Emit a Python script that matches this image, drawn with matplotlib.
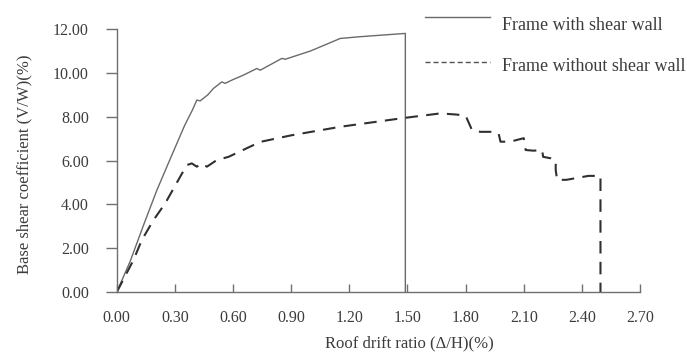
import numpy as np
import matplotlib.pyplot as plt
from matplotlib.lines import Line2D

plt.rcParams['font.family'] = ['Liberation Serif', 'DejaVu Serif']

# Кривая "Frame with shear wall"
drift_wall = [0.0, 0.069, 0.14, 0.207, 0.26, 0.31, 0.35, 0.39, 0.413, 0.43, 0.47,
              0.499, 0.542, 0.559, 0.594, 0.654, 0.723, 0.74, 0.852, 0.869, 1.0,
              1.153, 1.256, 1.489, 1.489]
shear_wall = [0.0, 1.4, 3.1, 4.65, 5.75, 6.78, 7.6, 8.3, 8.76, 8.72, 9.0,
              9.29, 9.59, 9.52, 9.67, 9.9, 10.2, 10.12, 10.66, 10.62, 11.0,
              11.57, 11.65, 11.8, 0.0]

# Кривая "Frame without shear wall"
drift_frame = [0.0, 0.086, 0.129, 0.189, 0.25, 0.327, 0.361, 0.387, 0.413, 0.439,
               0.465, 0.516, 0.577, 0.74, 0.9, 1.153, 1.48, 1.669, 1.75, 1.80,
               1.833, 1.876, 1.944, 1.97, 1.98, 2.03, 2.10, 2.11, 2.15, 2.195,
               2.2, 2.24, 2.265, 2.265, 2.272, 2.32, 2.434, 2.496, 2.496]
shear_frame = [0.0, 1.46, 2.37, 3.28, 4.05, 5.26, 5.79, 5.87, 5.72, 5.87,
               5.72, 6.02, 6.17, 6.85, 7.15, 7.54, 7.94, 8.15, 8.1, 8.05,
               7.39, 7.31, 7.31, 7.25, 6.86, 6.86, 7.02, 6.48, 6.45, 6.48,
               6.17, 6.1, 6.0, 5.57, 5.12, 5.12, 5.3, 5.3, 0.0]

xticks = [0.0, 0.3, 0.6, 0.9, 1.2, 1.5, 1.8, 2.1, 2.4, 2.7]
yticks = [0.0, 2.0, 4.0, 6.0, 8.0, 10.0, 12.0]

txt = '#3c3c3c'
W, H = 687, 354

fig = plt.figure(figsize=(6.87, 3.54), dpi=100)
ax = fig.add_axes([0.170, 0.175, 0.7616, 0.743])

ax.plot(drift_wall, shear_wall, color='#6a6a6a', lw=1.0)
ax.plot(drift_frame, shear_frame, color='#303030', lw=1.5, dashes=(6, 4))

ax.set_xlim(0, 2.7)
ax.set_ylim(0, 12)
ax.set_xticks(xticks)
ax.set_yticks(yticks)
ax.set_xticklabels(['%.2f' % v for v in xticks])
ax.set_yticklabels(['%.2f' % v for v in yticks])

for s in ['top', 'right']:
    ax.spines[s].set_visible(False)
for s in ['left', 'bottom']:
    ax.spines[s].set_color('#707070')
    ax.spines[s].set_linewidth(1.0)

ax.tick_params(axis='x', direction='in', length=6, width=1, color='#707070',
               pad=13, labelsize=11.5, labelcolor=txt)
ax.tick_params(axis='y', direction='out', length=8, width=1, color='#707070',
               pad=12, labelsize=11.5, labelcolor=txt)

ax.set_xlabel('Roof drift ratio (\u0394/H)(%)', fontsize=12, color=txt)
ax.xaxis.set_label_coords(0.5586, -0.163)
ax.set_ylabel('Base shear coefficient (V/W)(%)', fontsize=12, color=txt)
ax.yaxis.set_label_coords(-0.162, 0.487)

# легенда вручную, в пикселях фигуры
fig.add_artist(Line2D([425 / W, 490 / W], [1 - 17 / H, 1 - 17 / H],
                      color='#6a6a6a', lw=1.0))
fig.add_artist(Line2D([425 / W, 490 / W], [1 - 62 / H, 1 - 62 / H],
                      color='#505050', lw=1.0, dashes=(3.6, 2.2)))
fig.text(502 / W, 1 - 25 / H, 'Frame with shear wall', fontsize=13,
         color=txt, va='center', ha='left')
fig.text(502 / W, 1 - 66.5 / H, 'Frame without shear wall', fontsize=13,
         color=txt, va='center', ha='left')

fig.savefig('out.png', dpi=100)
